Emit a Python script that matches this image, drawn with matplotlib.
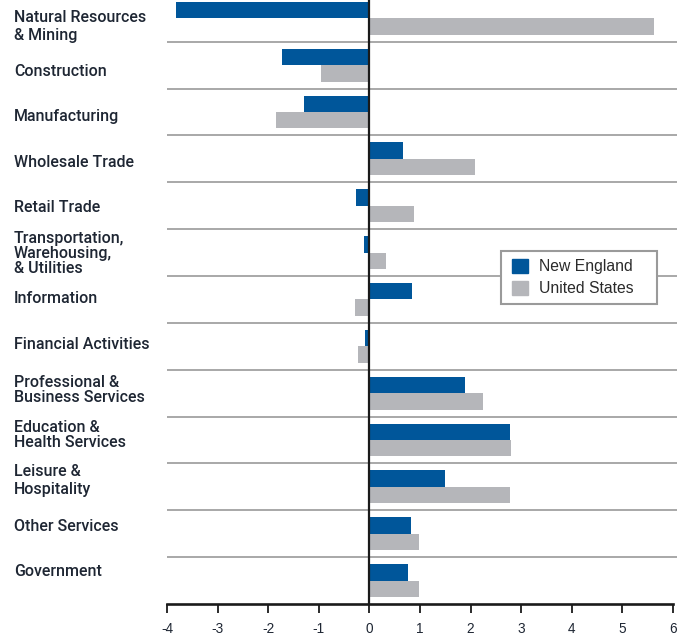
import matplotlib
matplotlib.use("Agg")
import matplotlib.pyplot as plt
from matplotlib.transforms import blended_transform_factory
from matplotlib.patches import Patch, Rectangle
import numpy as np

categories = [
    "Natural Resources\n& Mining",
    "Construction",
    "Manufacturing",
    "Wholesale Trade",
    "Retail Trade",
    "Transportation,\nWarehousing,\n& Utilities",
    "Information",
    "Financial Activities",
    "Professional &\nBusiness Services",
    "Education &\nHealth Services",
    "Leisure &\nHospitality",
    "Other Services",
    "Government",
]
new_england = [-3.82, -1.73, -1.30, 0.66, -0.27, -0.10, 0.85, -0.08, 1.89, 2.77, 1.50, 0.82, 0.76]
united_states = [5.63, -0.96, -1.84, 2.09, 0.89, 0.32, -0.29, -0.23, 2.25, 2.79, 2.77, 0.98, 0.98]
series_names = ["New England", "United States"]
x_ticks = [-4, -3, -2, -1, 0, 1, 2, 3, 4, 5, 6]

BLUE = "#00569a"
GRAY = "#b5b6ba"
SEP = "#a8a8a8"
TEXT = "#1e2633"

W, H = 683, 638
fig = plt.figure(figsize=(W / 100, H / 100), dpi=100)
x0_px, x6_px = 167.0, 673.0          # pixel positions of -4 and 6
scale = (x6_px - x0_px) / 10
xmax = 6 + (677 - x6_px) / scale
left_px, right_px = x0_px, 677.0
bottom_px = 604.0
ax = fig.add_axes([left_px / W, 1 - bottom_px / H, (right_px - left_px) / W, bottom_px / H])

n = len(categories)
y = np.arange(n)
bh = 0.35
ax.barh(y - bh / 2, new_england, height=bh, color=BLUE, label=series_names[0], zorder=3)
ax.barh(y + bh / 2, united_states, height=bh, color=GRAY, label=series_names[1], zorder=3)

ax.set_xlim(-4, xmax)
ax.set_ylim(n - 0.5, -0.39)

# separators
ax.hlines(np.arange(n - 1) + 0.5, -4, xmax, color=SEP, lw=1.4, zorder=1)
# zero line
ax.axvline(0, color="#1a1a1a", lw=1.6, zorder=4)

for s in ["top", "right", "left"]:
    ax.spines[s].set_visible(False)
ax.spines["bottom"].set_bounds(-4, 6)
ax.spines["bottom"].set_linewidth(1.9)
ax.spines["bottom"].set_color("#1a1a1a")
ax.set_yticks([])
ax.set_xticks(x_ticks)
ax.set_xticklabels([str(t) for t in x_ticks])
ax.tick_params(axis="x", direction="out", length=6.3, width=1.3, color="#1a1a1a",
               labelsize=9.8, labelcolor=TEXT, pad=7)
for lab in ax.get_xticklabels():
    lab.set_fontfamily(["Liberation Sans", "DejaVu Sans"])

# category labels
trans = blended_transform_factory(fig.transFigure, ax.transData)
row0_px, row_pitch = 18.27, 46.87
lab0_px, lab_pitch = 26.0, 45.5
for i, cat in enumerate(categories):
    ypx = lab0_px + lab_pitch * i
    yd = (ypx - row0_px) / row_pitch
    ls = 1.25 if i in (0, 10) else 1.0
    ax.text(14 / W, yd, cat, transform=trans, ha="left", va="center",
            fontsize=11.5, fontweight="medium", color=TEXT, linespacing=ls,
            family=["Roboto", "DejaVu Sans"], clip_on=False)

# legend frame
box = Rectangle((501 / W, 1 - 304 / H), (657 - 501) / W, (304 - 251) / H,
                transform=fig.transFigure, facecolor="white", edgecolor="#9a9a9a",
                lw=1.5, zorder=5, clip_on=False)
ax.add_patch(box)

leg = ax.legend(handles=[Patch(color=BLUE), Patch(color=GRAY)], labels=series_names,
                loc="upper left",
                bbox_to_anchor=(512 / W, 1 - 259 / H), bbox_transform=fig.transFigure,
                frameon=False,
                prop={"family": ["Liberation Sans", "DejaVu Sans"], "size": 11.3},
                handlelength=1.0, handleheight=1.0, handletextpad=0.7, labelspacing=0.4,
                borderpad=0, borderaxespad=0)
for t in leg.get_texts():
    t.set_color("#2a2a2a")
leg.set_zorder(6)

fig.savefig("out.png", dpi=100)
